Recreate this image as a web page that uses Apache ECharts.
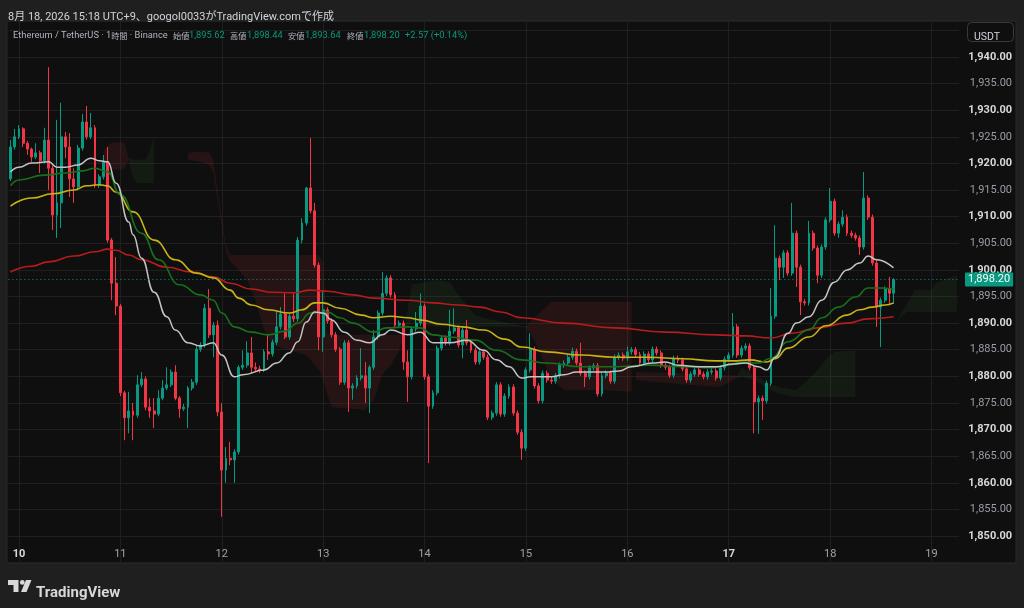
<!DOCTYPE html>
<html><head><meta charset="utf-8">
<script src="https://cdn.jsdelivr.net/npm/echarts/dist/echarts.min.js"></script>
<style>html,body{margin:0;padding:0;background:#1f1f1f;}#c{width:1024px;height:608px;}</style>
</head><body><div id="c"></div>
<script>
// ---- data ----
const slotCount = 225; // hourly slots incl. future cloud
const dayTicks = [2, 26, 50, 74, 98, 122, 146, 170, 194, 218];
const dayLabels = ['10', '11', '12', '13', '14', '15', '16', '17', '18', '19'];
const boldDays = ['10', '17'];
// [open, close, low, high]
const ohlc = [
[1917.1,1923.1,1916.7,1924.4],[1923.1,1925.0,1922.6,1926.5],[1925.0,1926.5,1924.6,1927.2],[1926.5,1923.8,1923.1,1926.8],
[1923.8,1922.7,1921.6,1924.2],[1922.7,1921.2,1920.3,1923.0],[1921.2,1922.0,1920.8,1923.8],[1922.0,1920.5,1918.2,1922.4],
[1920.5,1924.4,1920.0,1926.7],[1924.4,1919.1,1915.0,1938.1],[1919.1,1910.3,1907.5,1919.6],[1910.3,1912.6,1906.0,1928.2],
[1912.6,1925.0,1907.9,1931.4],[1925.0,1923.1,1921.0,1925.9],[1923.1,1917.1,1913.7,1925.7],[1917.1,1915.6,1912.6,1919.1],
[1915.6,1922.9,1915.0,1923.5],[1922.9,1927.8,1922.4,1929.3],[1927.8,1925.0,1924.5,1930.8],[1925.0,1926.7,1924.6,1929.5],
[1926.7,1915.9,1915.4,1927.2],[1915.9,1917.5,1915.4,1918.0],[1917.5,1920.3,1917.0,1921.6],[1920.3,1905.6,1905.1,1923.1],
[1905.6,1897.5,1894.3,1906.0],[1897.5,1893.2,1891.5,1902.4],[1893.2,1876.9,1876.3,1893.6],[1876.9,1872.2,1868.0,1877.3],
[1872.2,1873.5,1869.3,1877.1],[1873.5,1872.7,1868.0,1875.0],[1872.7,1878.4,1872.2,1880.2],[1878.4,1879.5,1878.0,1880.8],
[1879.5,1874.2,1873.6,1880.0],[1874.2,1873.5,1872.2,1875.9],[1873.5,1872.9,1870.3,1875.9],[1872.9,1875.9,1872.5,1877.4],
[1875.9,1877.8,1875.5,1879.3],[1877.8,1878.4,1877.4,1881.7],[1878.4,1880.8,1878.0,1881.3],[1880.8,1875.9,1875.5,1882.1],
[1875.9,1873.9,1872.2,1876.3],[1873.9,1874.2,1873.5,1874.8],[1874.2,1877.8,1870.3,1878.2],[1877.8,1878.9,1877.3,1879.5],
[1878.9,1885.1,1878.4,1886.0],[1885.1,1885.9,1884.6,1886.4],[1885.9,1892.8,1885.4,1893.6],[1892.8,1887.8,1887.2,1896.4],
[1887.8,1889.6,1883.6,1890.2],[1889.6,1873.3,1872.5,1890.5],[1873.3,1862.4,1853.6,1875.0],[1862.4,1864.6,1860.0,1866.7],
[1864.6,1864.3,1863.3,1867.7],[1864.3,1865.8,1860.0,1866.3],[1865.8,1881.7,1865.3,1882.1],[1881.7,1882.1,1881.2,1884.9],
[1882.1,1884.4,1881.6,1886.6],[1884.4,1881.7,1880.6,1887.4],[1881.7,1881.4,1880.8,1882.6],[1881.4,1881.2,1880.6,1882.0],
[1881.2,1884.6,1880.8,1885.1],[1884.6,1884.2,1883.1,1887.8],[1884.2,1886.4,1883.7,1886.9],[1886.4,1889.3,1885.9,1892.1],
[1889.3,1891.7,1888.8,1893.0],[1891.7,1887.4,1887.0,1895.6],[1887.4,1891.3,1886.9,1891.8],[1891.3,1890.8,1890.2,1895.6],
[1890.8,1905.6,1890.3,1906.2],[1905.6,1908.8,1905.0,1909.7],[1908.8,1915.4,1908.3,1915.6],[1915.4,1911.1,1910.6,1924.8],
[1911.1,1900.9,1900.4,1912.6],[1900.9,1887.4,1884.9,1901.4],[1887.4,1892.5,1884.6,1896.2],[1892.5,1890.4,1889.9,1893.0],
[1890.4,1887.8,1887.3,1890.9],[1887.8,1885.1,1884.6,1888.3],[1885.1,1878.9,1878.4,1885.5],[1878.9,1886.3,1878.4,1886.8],
[1886.3,1877.8,1873.3,1886.8],[1877.8,1878.2,1875.6,1878.7],[1878.2,1879.7,1877.7,1880.2],[1879.7,1880.1,1879.2,1885.3],
[1880.1,1877.8,1875.0,1882.7],[1877.8,1881.7,1873.1,1882.1],[1881.7,1887.4,1881.2,1888.7],[1887.4,1891.9,1886.9,1892.4],
[1891.9,1895.6,1891.4,1899.6],[1895.6,1898.5,1895.1,1899.0],[1898.5,1895.3,1894.8,1899.0],[1895.3,1889.6,1889.1,1895.8],
[1889.6,1890.0,1889.1,1890.5],[1890.0,1882.7,1881.2,1890.5],[1882.7,1879.9,1875.2,1884.9],[1879.9,1888.9,1879.4,1889.4],
[1888.9,1890.0,1888.4,1892.1],[1890.0,1893.2,1889.5,1895.6],[1893.2,1879.9,1879.4,1893.7],[1879.9,1874.4,1863.7,1880.4],
[1874.4,1876.9,1873.9,1877.4],[1876.9,1885.3,1876.4,1885.8],[1885.3,1887.2,1884.8,1887.7],[1887.2,1886.3,1885.8,1887.7],
[1886.3,1888.5,1885.8,1892.5],[1888.5,1889.1,1888.0,1892.8],[1889.1,1885.9,1885.4,1889.6],[1885.9,1888.7,1883.4,1889.2],
[1888.7,1886.3,1885.8,1890.6],[1886.3,1884.9,1884.4,1886.8],[1884.9,1882.7,1882.2,1885.4],[1882.7,1884.6,1882.2,1885.1],
[1884.6,1883.6,1883.1,1885.1],[1883.6,1872.3,1871.8,1884.1],[1872.3,1873.1,1871.8,1873.6],[1873.1,1878.4,1872.6,1878.9],
[1878.4,1872.9,1872.4,1878.9],[1872.9,1876.3,1872.4,1876.8],[1876.3,1878.0,1875.8,1878.5],[1878.0,1873.1,1872.6,1878.5],
[1873.1,1869.5,1869.0,1873.6],[1869.5,1866.5,1864.3,1870.0],[1866.5,1881.2,1866.0,1881.7],[1881.2,1885.1,1880.7,1888.1],
[1885.1,1878.2,1877.7,1885.6],[1878.2,1875.4,1874.9,1878.7],[1875.4,1880.6,1874.9,1881.1],[1880.6,1879.3,1878.8,1881.1],
[1879.3,1879.1,1878.6,1880.0],[1879.1,1880.1,1878.6,1880.6],[1880.1,1882.1,1879.6,1882.6],[1882.1,1882.5,1881.6,1883.0],
[1882.5,1883.6,1882.0,1884.1],[1883.6,1884.7,1883.1,1885.4],[1884.7,1882.5,1882.0,1885.2],[1882.5,1880.6,1880.1,1886.3],
[1880.6,1879.9,1878.0,1881.1],[1879.9,1881.6,1879.4,1882.1],[1881.6,1882.0,1881.1,1882.5],[1882.0,1876.7,1876.2,1882.5],
[1876.7,1880.1,1876.2,1880.6],[1880.1,1880.6,1879.6,1881.1],[1880.6,1879.1,1878.6,1881.1],[1879.1,1883.6,1878.6,1884.1],
[1883.6,1884.0,1883.1,1884.5],[1884.0,1883.4,1882.9,1884.5],[1883.4,1884.6,1882.9,1885.6],[1884.6,1885.0,1884.1,1885.5],
[1885.0,1884.1,1883.6,1885.5],[1884.1,1882.5,1882.0,1884.6],[1882.5,1884.2,1882.0,1884.7],[1884.2,1883.1,1882.6,1884.7],
[1883.1,1885.1,1882.6,1885.6],[1885.1,1884.4,1883.9,1885.6],[1884.4,1882.1,1881.6,1884.9],[1882.1,1881.7,1881.2,1882.6],
[1881.7,1880.2,1879.7,1882.2],[1880.2,1883.4,1879.7,1883.9],[1883.4,1883.0,1882.5,1883.9],[1883.0,1881.4,1880.9,1883.5],
[1881.4,1879.3,1878.8,1881.9],[1879.3,1880.4,1878.8,1880.9],[1880.4,1881.2,1879.9,1881.7],[1881.2,1880.4,1879.9,1881.7],
[1880.4,1879.9,1879.4,1880.9],[1879.9,1880.8,1879.4,1881.3],[1880.8,1881.0,1880.3,1881.5],[1881.0,1879.7,1879.2,1881.5],
[1879.7,1881.6,1879.2,1882.1],[1881.6,1883.2,1881.1,1883.7],[1883.2,1884.0,1882.7,1884.5],[1884.0,1889.3,1883.5,1891.9],
[1889.3,1884.0,1883.5,1889.8],[1884.0,1885.3,1883.5,1885.8],[1885.3,1885.7,1884.8,1886.2],[1885.7,1881.6,1881.1,1886.2],
[1881.6,1875.2,1869.3,1882.1],[1875.2,1875.9,1869.2,1876.4],[1875.9,1875.4,1871.8,1876.4],[1875.4,1878.7,1874.9,1879.2],
[1878.7,1891.3,1878.2,1896.6],[1891.3,1902.2,1890.8,1908.4],[1902.2,1900.5,1898.1,1902.7],[1900.5,1903.2,1898.5,1903.7],
[1903.2,1899.4,1898.9,1903.7],[1899.4,1906.9,1898.9,1912.6],[1906.9,1900.5,1896.8,1907.4],[1900.5,1894.0,1891.5,1901.0],
[1894.0,1893.8,1893.3,1894.5],[1893.8,1906.9,1893.3,1909.2],[1906.9,1904.1,1903.6,1907.4],[1904.1,1899.0,1897.5,1904.6],
[1899.0,1904.3,1898.5,1904.8],[1904.3,1909.4,1903.8,1909.9],[1909.4,1912.9,1908.9,1915.4],[1912.9,1906.9,1906.4,1913.4],
[1906.9,1908.6,1906.0,1909.1],[1908.6,1909.9,1908.1,1911.2],[1909.9,1906.9,1906.4,1910.4],[1906.9,1906.5,1906.0,1907.4],
[1906.5,1906.0,1905.5,1907.0],[1906.0,1904.3,1902.8,1906.5],[1904.3,1913.5,1903.8,1918.4],[1913.5,1909.9,1909.4,1914.0],
[1909.9,1901.3,1900.8,1910.4],[1901.3,1893.0,1889.3,1901.8],[1893.0,1894.3,1885.5,1894.8],[1894.3,1896.4,1893.8,1896.9],
[1896.4,1895.62,1893.5,1898.7],[1895.62,1898.20,1893.64,1898.44]
];
// moving averages: [slot index, value]
const maWhite = [[0,1918.4],[2,1919.3],[5,1920.1],[9,1920.3],[11,1919.3],[13,1919.3],[16,1919.7],[19,1921.0],[21,1920.5],[23,1920.3],[25,1916.3],[28,1909.0],[29,1906.6],[31,1902.2],[34,1895.8],[37,1891.2],[39,1888.7],[42,1886.3],[45,1885.7],[48,1886.3],[50,1884.0],[53,1879.9],[55,1880.3],[60,1881.2],[63,1882.5],[66,1884.4],[68,1886.5],[70,1890.2],[72,1892.1],[74,1891.9],[76,1890.6],[79,1888.3],[82,1886.8],[85,1886.3],[88,1887.8],[90,1888.7],[94,1887.8],[97,1888.3],[100,1886.3],[104,1886.3],[108,1886.8],[112,1884.9],[115,1883.1],[118,1881.8],[121,1879.7],[123,1879.9],[128,1879.9],[131,1880.3],[134,1880.8],[141,1880.8],[144,1881.0],[147,1881.8],[152,1882.5],[155,1882.7],[158,1882.1],[163,1881.8],[167,1881.8],[171,1882.3],[174,1882.5],[177,1881.8],[179,1881.2],[181,1883.6],[184,1888.1],[186,1890.0],[189,1891.2],[192,1894.3],[195,1897.7],[198,1900.0],[201,1901.3],[203,1902.6],[205,1901.9],[209,1900.4]];
const maGreen = [[0,1915.8],[2,1916.9],[8,1917.8],[13,1918.2],[17,1918.6],[20,1919.1],[23,1918.4],[26,1914.1],[31,1906.9],[35,1901.9],[40,1897.2],[45,1895.3],[48,1894.3],[50,1891.9],[53,1889.3],[57,1888.3],[61,1887.8],[65,1888.5],[68,1890.0],[71,1891.9],[75,1892.1],[78,1891.0],[81,1890.0],[86,1888.3],[89,1889.1],[94,1889.3],[97,1889.1],[100,1887.8],[104,1887.4],[110,1886.8],[115,1884.9],[121,1883.1],[127,1882.5],[135,1881.8],[143,1881.8],[151,1882.1],[159,1881.8],[166,1881.6],[170,1882.1],[173,1882.7],[177,1882.5],[180,1883.4],[184,1886.5],[189,1888.7],[192,1891.0],[196,1893.0],[200,1894.9],[203,1896.6],[206,1896.6],[209,1896.4]];
const maYellow = [[0,1912.0],[5,1913.5],[10,1914.3],[15,1915.0],[18,1915.8],[21,1916.0],[23,1915.8],[25,1914.6],[29,1910.9],[34,1905.6],[39,1901.9],[44,1899.4],[48,1898.5],[52,1896.2],[54,1894.7],[57,1893.4],[61,1892.5],[66,1891.9],[69,1892.5],[72,1893.8],[74,1893.8],[78,1892.8],[83,1891.5],[86,1891.0],[90,1891.3],[94,1891.0],[97,1890.6],[102,1889.8],[107,1889.3],[112,1888.7],[117,1887.0],[121,1885.5],[127,1884.6],[135,1884.0],[143,1883.6],[151,1883.6],[159,1883.3],[167,1882.9],[171,1882.9],[175,1883.1],[179,1882.7],[181,1883.3],[184,1885.3],[189,1887.4],[193,1889.5],[198,1891.5],[201,1892.5],[204,1893.0],[207,1893.4],[209,1893.8]];
const maRed = [[0,1899.6],[5,1900.7],[9,1901.5],[15,1902.6],[20,1903.4],[23,1903.9],[25,1903.7],[28,1902.8],[31,1901.9],[37,1900.5],[43,1899.6],[48,1898.7],[52,1897.5],[57,1896.4],[62,1895.8],[67,1895.7],[71,1896.2],[75,1896.0],[81,1895.3],[86,1894.7],[94,1894.3],[100,1893.8],[106,1893.4],[111,1893.0],[116,1892.1],[121,1891.0],[131,1890.0],[143,1889.1],[155,1888.3],[167,1887.8],[174,1887.6],[180,1887.2],[185,1888.1],[191,1889.1],[198,1890.0],[203,1890.8],[209,1891.2]];
// cloud segments: [slot index, upper, lower]
const cloudA = [[22,1922.5,1919.7],[24,1924.0,1918.8],[26,1924.0,1918.8],[27,1923.8,1919.1],[28,1921.0,1920.7]];
const cloudB = [[28,1921.0,1920.7],[29,1920.7,1917.3],[30,1920.7,1916.3],[32,1920.8,1916.3],[33,1922.5,1916.3],[34,1925.2,1916.3]];
const cloudC = [[42,1922.0,1920.7],[45,1922.2,1920.3],[47,1922.0,1919.7],[48,1920.7,1918.4],[49,1915.0,1913.1],[50,1909.8,1908.4],[51,1904.7,1903.4],[52,1902.8,1901.5],[54,1902.8,1900.0],[56,1902.8,1898.1],[58,1902.8,1894.3],[60,1902.8,1888.7],[62,1902.8,1885.9],[66,1902.8,1884.9],[70,1902.8,1884.0],[73,1902.8,1881.2],[74,1901.5,1879.3],[75,1888.1,1876.5],[76,1887.8,1874.2],[84,1887.8,1873.7],[86,1887.8,1875.6],[88,1887.8,1880.3],[90,1887.8,1882.1],[92,1887.8,1884.9],[93,1887.8,1887.4]];
const cloudD = [[93,1887.8,1887.4],[95,1897.2,1890.6],[98,1897.7,1889.6],[101,1898.1,1889.3],[104,1897.7,1889.3],[106,1895.3,1889.3],[108,1893.4,1889.3],[110,1891.5,1889.3],[114,1890.6,1889.3],[118,1890.0,1889.3],[122,1889.3,1889.2]];
const cloudE = [[122,1889.3,1889.2],[124,1891.0,1886.8],[126,1892.5,1883.1],[128,1894.0,1879.7],[131,1894.0,1877.4],[140,1894.0,1877.4],[147,1894.0,1877.1]];
const cloudF = [[148,1880.8,1879.3],[160,1880.6,1878.4],[168,1880.3,1878.0],[172,1880.1,1879.7]];
const cloudG = [[172,1880.1,1879.7],[173,1881.6,1879.9],[176,1880.3,1879.3],[180,1878.4,1877.4],[183,1877.8,1876.5],[186,1877.4,1876.1],[190,1880.3,1876.1],[193,1883.1,1876.1],[195,1884.6,1876.1],[200,1884.9,1876.1]];
const cloudH = [[210,1890.8,1890.6],[212,1893.4,1892.1],[213,1894.7,1892.1],[214,1896.2,1892.1],[218,1896.2,1892.1],[219,1897.5,1892.1],[222,1898.5,1892.1],[224,1899.0,1892.1]];
const cloudSegments = [['bear', cloudA], ['bull', cloudB], ['bear', cloudC], ['bull', cloudD], ['bear', cloudE], ['bear', cloudF], ['bull', cloudG], ['bull', cloudH]];
const lastPrice = 1898.20;
const yTicksShown = [1850, 1940];

// ---- chart ----
const UP = '#089981', DOWN = '#f23645';
const FONT = 'Roboto, "Noto Sans CJK JP", sans-serif';
const CJK = '"Noto Sans CJK JP", Roboto, sans-serif';
const categories = Array.from({length: slotCount}, (_, i) => String(i));
const fmt = v => v.toLocaleString('en-US', {minimumFractionDigits: 2, maximumFractionDigits: 2});

const chart = echarts.init(document.getElementById('c'), null, {renderer: 'canvas'});

const gridLines = dayTicks.map(i => ({xAxis: i}));

function txt(x, y, s, color, size, weight, family) {
  return {type: 'text', left: x, top: y, z: 50, silent: true,
    style: {text: s, fill: color, font: (weight || 'normal') + ' ' + size + 'px ' + (family || FONT), textVerticalAlign: 'middle'}};
}
const last = ohlc[ohlc.length - 1];
const LG = 9.3;   // legend latin font size
const LC = 8.2;   // legend CJK font size
const GRAY = '#b2b5be';

const option = {
  animation: false,
  backgroundColor: '#1f1f1f',
  textStyle: {fontFamily: FONT},
  grid: {left: 8.4, top: 21, width: 950.6, height: 541.6, containLabel: false},
  xAxis: {
    type: 'category', data: categories, boundaryGap: true,
    axisLine: {show: false}, axisTick: {show: false}, splitLine: {show: false},
    axisLabel: {
      inside: true, margin: 3,
      interval: (i) => dayTicks.indexOf(i) >= 0,
      formatter: (v, i) => {
        const d = dayTicks.indexOf(i);
        if (d < 0) return '';
        const t = dayLabels[d];
        return boldDays.indexOf(t) >= 0 ? '{b|' + t + '}' : '{n|' + t + '}';
      },
      rich: {b: {color: '#d8d8d8', fontWeight: 'bold', fontSize: 11, fontFamily: FONT},
             n: {color: '#a0a3ab', fontSize: 11, fontFamily: FONT}}
    }
  },
  yAxis: {
    type: 'value', position: 'right', min: 1845, max: 1946.77, interval: 5,
    axisLine: {show: false}, axisTick: {show: false},
    splitLine: {lineStyle: {color: '#1f1f1f', width: 1}},
    axisLabel: {
      align: 'right', margin: 53,
      formatter: (v) => {
        const r = Math.round(v / 5) * 5;
        if (Math.abs(v - r) > 1e-6 || r < yTicksShown[0] || r > yTicksShown[1]) return '';
        return (r % 10 === 0 ? '{b|' : '{r|') + fmt(r) + '}';
      },
      rich: {b: {color: '#d8d8d8', fontWeight: 'bold', fontSize: 11, fontFamily: FONT},
             r: {color: '#9a9da5', fontSize: 11, fontFamily: FONT}}
    }
  },
  series: [
    {
      type: 'custom', silent: true, z: 1, clip: true,
      data: cloudSegments.map(s => [s[1][0][0], s[1][0][1]]),
      renderItem: (params, api) => {
        const seg = cloudSegments[params.dataIndex];
        const pts = seg[1];
        const up = pts.map(p => api.coord([p[0], p[1]]));
        const lo = pts.slice().reverse().map(p => api.coord([p[0], p[2]]));
        return {type: 'polygon', shape: {points: up.concat(lo)},
          style: {fill: seg[0] === 'bear' ? 'rgba(242,54,69,0.10)' : 'rgba(76,175,80,0.08)'}};
      },
      markLine: {
        silent: true, z: 0, symbol: ['none', 'none'], animation: false,
        label: {show: false},
        lineStyle: {color: '#1f1f1f', type: 'solid', width: 1},
        data: gridLines
      }
    },
    {
      type: 'candlestick', data: ohlc, barWidth: 2.4, z: 3,
      itemStyle: {color: UP, color0: DOWN, borderColor: UP, borderColor0: DOWN, borderWidth: 1},
      markLine: {
        silent: true, symbol: ['none', 'none'], animation: false,
        lineStyle: {color: UP, type: [1, 3], width: 1},
        label: {show: true, position: 'end', distance: 6, formatter: fmt(lastPrice),
          color: '#ffffff', backgroundColor: UP, padding: [2, 3, 1, 3], borderRadius: 1,
          fontSize: 11, fontFamily: FONT},
        data: [{yAxis: lastPrice}]
      }
    },
    {type: 'line', data: maRed, showSymbol: false, smooth: true, smoothMonotone: 'x', silent: true, z: 4,
      lineStyle: {color: '#b71c1c', width: 1.6}},
    {type: 'line', data: maYellow, showSymbol: false, smooth: true, smoothMonotone: 'x', silent: true, z: 4,
      lineStyle: {color: '#c7b414', width: 1.6}},
    {type: 'line', data: maGreen, showSymbol: false, smooth: true, smoothMonotone: 'x', silent: true, z: 4,
      lineStyle: {color: '#17701c', width: 1.6}},
    {type: 'line', data: maWhite, showSymbol: false, smooth: true, smoothMonotone: 'x', silent: true, z: 4,
      lineStyle: {color: '#c4c4c4', width: 1.5}}
  ],
  graphic: [
    {type: 'rect', z: -100, silent: true, shape: {x: 7, y: 21, width: 1009, height: 542},
      style: {fill: '#0f0f0f', stroke: '#2a2a2a', lineWidth: 1}},
    txt(8, 12, '8月 18, 2026 15:18 UTC+9、googol0033がTradingView.comで作成', '#d1d4dc', 11),
    {type: 'text', left: 13, top: 31.5, z: 50, silent: true,
      style: {text: '{a|Ethereum / TetherUS · 1}{c|時間}{a| · Binance}', textVerticalAlign: 'middle',
        rich: {a: {fill: GRAY, fontSize: LG, fontFamily: FONT}, c: {fill: GRAY, fontSize: LC, fontFamily: CJK}}}},
    txt(173, 31.5, '始値', GRAY, LC, 'normal', CJK), txt(189, 31.5, fmt(last[0]), UP, LG),
    txt(230, 31.5, '高値', GRAY, LC, 'normal', CJK), txt(247, 31.5, fmt(last[3]), UP, LG),
    txt(288, 31.5, '安値', GRAY, LC, 'normal', CJK), txt(305, 31.5, fmt(last[2]), UP, LG),
    txt(347, 31.5, '終値', GRAY, LC, 'normal', CJK), txt(364, 31.5, fmt(last[1]), UP, LG),
    txt(405, 31.5, '+2.57 (+0.14%)', UP, LG),
    {type: 'rect', z: 50, silent: true, shape: {x: 967.5, y: 22.5, width: 46, height: 19, r: 4},
      style: {fill: '#0f0f0f', stroke: '#3a3a3a', lineWidth: 1}},
    txt(974, 32, 'USDT', '#d1d4dc', 10.5),
    {type: 'polygon', z: 50, silent: true, shape: {points: [[8, 580], [18.5, 580], [18.5, 592], [13.5, 592], [13.5, 585], [8, 585]]}, style: {fill: '#d8d8d8'}},
    {type: 'circle', z: 50, silent: true, shape: {cx: 22.3, cy: 582.4, r: 2.4}, style: {fill: '#d8d8d8'}},
    {type: 'polygon', z: 50, silent: true, shape: {points: [[26, 580], [31.5, 580], [26.5, 592], [21, 592]]}, style: {fill: '#d8d8d8'}},
    txt(36, 586, 'TradingView', '#d8d8d8', 15, 'bold')
  ]
};
chart.setOption(option);
</script>
</body></html>
